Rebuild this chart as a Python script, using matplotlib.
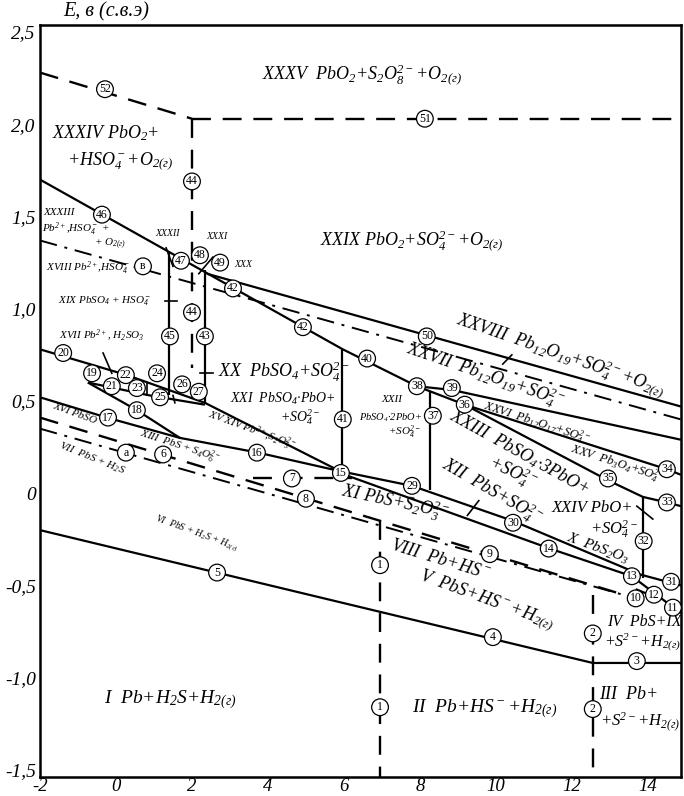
import matplotlib
matplotlib.use('Agg')
import matplotlib.pyplot as plt

plt.rcParams['font.family'] = 'Liberation Serif'
plt.rcParams['font.style'] = 'italic'
plt.rcParams['mathtext.fontset'] = 'custom'
plt.rcParams['mathtext.rm'] = 'Liberation Serif:italic'
plt.rcParams['mathtext.it'] = 'Liberation Serif:italic'

# axes
ph_ticks = [-2, 0, 2, 4, 6, 8, 10, 12, 14]
e_ticks = [-1.5, -1.0, -0.5, 0, 0.5, 1.0, 1.5, 2.0, 2.5]
e_tick_labels = ['-1,5', '-1,0', '-0,5', '0', '0,5', '1,0', '1,5', '2,0', '2,5']

# solid boundaries (pH points, E points)
solid_ph = [
    [-2.0, 5.97], [2.39, 14.87], [1.39, 1.39], [2.34, 2.34], [5.95, 5.95],
    [5.97, 7.92], [7.92, 8.84, 14.87], [7.92, 9.18, 14.50, 14.87],
    [9.18, 12.95, 13.87, 14.50, 14.87], [8.26, 8.26], [13.87, 13.87],
    [-2.0, 0.29, 2.34, 5.89], [-0.74, 0.89, 2.34], [-0.74, 0.55, 1.68],
    [-2.0, -0.24, 1.68, 3.74, 5.89], [5.89, 7.79, 10.45, 13.79, 14.87],
    [5.89, 11.42, 13.58], [13.58, 14.87], [13.68, 14.16],
    [-2.0, 12.55, 14.87],
]
solid_e = [
    [1.70, 0.78], [1.19, 0.47], [1.31, 0.53], [1.21, 0.49], [0.78, 0.12],
    [0.78, 0.58], [0.58, 0.56, 0.29], [0.58, 0.48, 0.13, 0.10],
    [0.48, 0.07, -0.02, -0.05, -0.07], [0.55, 0.02], [-0.02, -0.46],
    [0.78, 0.64, 0.49, 0.12], [0.60, 0.53, 0.48], [0.60, 0.45, 0.30],
    [0.52, 0.41, 0.30, 0.22, 0.12], [0.12, 0.04, -0.15, -0.44, -0.50],
    [0.11, -0.30, -0.45], [-0.45, -0.65], [-0.52, -0.56],
    [-0.20, -0.92, -0.92],
]

# short leader ticks
tick_ph = [[-0.34, -0.11], [0.82, 0.82], [1.50, 1.55], [1.32, 1.50], [2.18, 2.55],
           [1.29, 1.61], [2.21, 2.55], [10.18, 10.42], [9.25, 9.55], [13.71, 14.13]]
tick_e = [[0.76, 0.65], [0.60, 0.53], [0.53, 0.49], [1.33, 1.23], [1.19, 1.28],
          [1.04, 1.04], [0.65, 0.65], [0.70, 0.75], [-0.12, -0.04], [-0.07, -0.14]]

# dashed boundaries
dashed_ph = [[-2.0, 2.0], [2.0, 14.87], [2.0, 2.0], [-2.0, 13.68], [3.61, 6.21],
             [6.95, 6.95], [12.55, 12.55]]
dashed_e = [[2.28, 2.03], [2.03, 2.03], [2.03, 0.68], [0.41, -0.57], [0.08, 0.08],
            [-0.15, -1.54], [-0.55, -1.50]]

# dash-dot boundaries
dashdot_ph = [[-2.0, 14.87], [-2.0, 13.68]]
dashdot_e = [[1.37, 0.40], [0.35, -0.57]]

# numbered circles
circle_ids = ['52', '51', '44', '44', '46', '47', '48', '49', '42', '42', 'в', '45', '43',
              '20', '19', '21', '22', '23', '24', '25', '26', '27', '17', '18', '16', 'а',
              '6', '15', '7', '8', '41', '40', '38', '39', '36', '37', '50', '29', '30',
              '14', '9', '13', '10', '12', '11', '31', '32', '33', '34', '35', '1', '1',
              '2', '2', '3', '4', '5']
circle_ph = [-0.29, 8.13, 2.0, 2.0, -0.37, 1.71, 2.21, 2.74, 3.08, 4.92, 0.71, 1.42, 2.34,
             -1.39, -0.63, -0.11, 0.26, 0.55, 1.08, 1.16, 1.74, 2.18, -0.21, 0.55, 3.71, 0.26,
             1.24, 5.92, 4.63, 5.0, 5.97, 6.61, 7.92, 8.84, 9.18, 8.34, 8.18, 7.79, 10.45,
             11.39, 9.84, 13.58, 13.68, 14.16, 14.66, 14.61, 13.89, 14.50, 14.50, 12.95, 6.95, 6.95,
             12.55, 12.55, 13.71, 9.92, 2.66]
circle_e = [2.19, 2.03, 1.69, 0.98, 1.51, 1.26, 1.29, 1.25, 1.11, 0.90, 1.23, 0.85, 0.85,
            0.76, 0.65, 0.58, 0.64, 0.57, 0.65, 0.52, 0.59, 0.55, 0.41, 0.45, 0.22, 0.22,
            0.21, 0.11, 0.08, -0.03, 0.40, 0.73, 0.58, 0.57, 0.48, 0.42, 0.85, 0.04, -0.16,
            -0.30, -0.33, -0.45, -0.57, -0.55, -0.62, -0.48, -0.26, -0.05, 0.13, 0.08, -0.39, -1.16,
            -0.76, -1.17, -0.91, -0.78, -0.43]

# field labels
so4 = 'SO$_4^{2-}$'
o2g = 'O$_{2(г)}$'
h2g = 'H$_{2(г)}$'
label_text = [
    'XXXV  PbO$_2$+S$_2$O$_8^{2-}$+' + o2g, 'XXXIV PbO$_2$+', '+HSO$_4^-$+' + o2g,
    'XXXIII', 'Pb$^{2+}$,HSO$_4^-$ +', '+ ' + o2g, 'XXXII', 'XXXI', 'XXX',
    'XXIX PbO$_2$+' + so4 + '+' + o2g, 'XVIII Pb$^{2+}$,HSO$_4^-$', 'XIX PbSO$_4$ + HSO$_4^-$',
    'XVII Pb$^{2+}$, H$_2$SO$_3$', 'XX  PbSO$_4$+' + so4, 'XXI  PbSO$_4$·PbO+', '+' + so4,
    'XVI PbSO', 'XV XIV Pb$^{2+}$,S$_2$O$_3^{2-}$', 'XIII  PbS + S$_4$O$_6^{2-}$',
    'VII  PbS + H$_2$S', 'XXII', 'PbSO$_4$·2PbO+', '+' + so4,
    'XXVIII  Pb$_{12}$O$_{19}$+' + so4 + '+' + o2g, 'XXVII  Pb$_{12}$O$_{19}$+' + so4,
    'XXVI  Pb$_{12}$O$_{17}$+' + so4, 'XXV  Pb$_3$O$_4$+' + so4,
    'XXIII  PbSO$_4$·3PbO+', '+' + so4, 'XII  PbS+' + so4, 'XXIV PbO+', '+' + so4,
    'X  PbS$_2$O$_3$', 'XI PbS+S$_2$O$_3^{2-}$', 'VIII  Pb+HS$^-$', 'V  PbS+HS$^-$+' + h2g,
    'VI  PbS + H$_2$S + ' + h2g, 'IV  PbS+IX', '+S$^{2-}$+' + h2g,
    'I  Pb+H$_2$S+' + h2g, 'II  Pb+HS$^-$+' + h2g, 'III  Pb+', '+S$^{2-}$+' + h2g,
]
label_ph = [6.47, -0.26, 0.11, -1.50, -1.05, -0.15, 1.37, 2.66, 3.34, 7.79, -0.74, -0.29,
            -0.37, 4.42, 4.39, 4.84, -1.08, 3.58, 1.68, -0.63, 7.25, 7.22, 7.60, 11.70, 9.71,
            11.08, 13.21, 10.63, 10.45, 9.90, 12.55, 13.12, 12.68, 7.34, 8.53, 9.76, 2.13,
            13.90, 13.85, 1.42, 9.71, 13.50, 13.80]
label_e = [2.27, 1.95, 1.80, 1.52, 1.43, 1.35, 1.41, 1.39, 1.24, 1.37, 1.22, 1.04, 0.85,
           0.66, 0.51, 0.41, 0.43, 0.34, 0.25, 0.19, 0.51, 0.41, 0.33, 0.75, 0.64, 0.38,
           0.16, 0.22, 0.11, 0.01, -0.08, -0.20, -0.30, -0.05, -0.36, -0.58, -0.22,
           -0.70, -0.81, -1.12, -1.17, -1.09, -1.24]
label_size = [13, 13, 13, 8, 8, 8, 7, 7, 7, 13, 8, 8, 8, 13, 10, 10, 8, 8, 8, 8, 8, 7.5, 8,
              13, 13, 9, 9, 13, 13, 13, 12, 12, 11, 13, 13, 13, 7, 11.5, 11.5, 14, 14, 13, 12]
label_rot = [0, 0, 0, 0, 0, 0, 0, 0, 0, 0, 0, 0, 0, 0, 0, 0, -20, -20, -18, -22, 0, 0, 0,
             -19, -19, -18, -18, -29, -25, -30, 0, 0, -20, -12, -17, -20, -20, 0, 0, 0, 0, 0, 0]

fig = plt.figure(figsize=(6.84, 7.96), dpi=100)
ax = fig.add_axes([0.0585, 0.0239, 0.937, 0.9447])

for xs, ys in zip(solid_ph, solid_e):
    ax.plot(xs, ys, color='black', lw=1.6, solid_capstyle='butt')
for xs, ys in zip(tick_ph, tick_e):
    ax.plot(xs, ys, color='black', lw=1.2)
for xs, ys in zip(dashed_ph, dashed_e):
    ax.plot(xs, ys, color='black', lw=1.7, dashes=(8, 5))
for xs, ys in zip(dashdot_ph, dashdot_e):
    ax.plot(xs, ys, color='black', lw=1.4, dashes=(9, 4, 1.5, 4))

for s, x, y in zip(circle_ids, circle_ph, circle_e):
    ax.text(x, y, s, ha='center', va='center', fontsize=8.5, fontstyle='normal', zorder=5,
            bbox=dict(boxstyle='circle,pad=0.2', fc='white', ec='black', lw=0.9))

for s, x, y, fs, r in zip(label_text, label_ph, label_e, label_size, label_rot):
    ax.text(x, y, s, ha='center', va='center', fontsize=fs, rotation=r,
            rotation_mode='anchor', zorder=4)

ax.set_xlim(-2, 14.87)
ax.set_ylim(-1.538, 2.538)
ax.set_xticks(ph_ticks)
ax.set_xticklabels([str(t) for t in ph_ticks])
ax.set_yticks(e_ticks)
ax.set_yticklabels(e_tick_labels)
ax.tick_params(length=0, labelsize=14, pad=3)
ax.tick_params(axis='x', labelsize=13.5, pad=0.5)
for sp in ax.spines.values():
    sp.set_linewidth(1.8)

ax.text(-1.4, 2.61, 'E, в (с.в.э)', fontsize=14.5, ha='left', va='center', clip_on=False)

fig.savefig('out.png', dpi=100)
